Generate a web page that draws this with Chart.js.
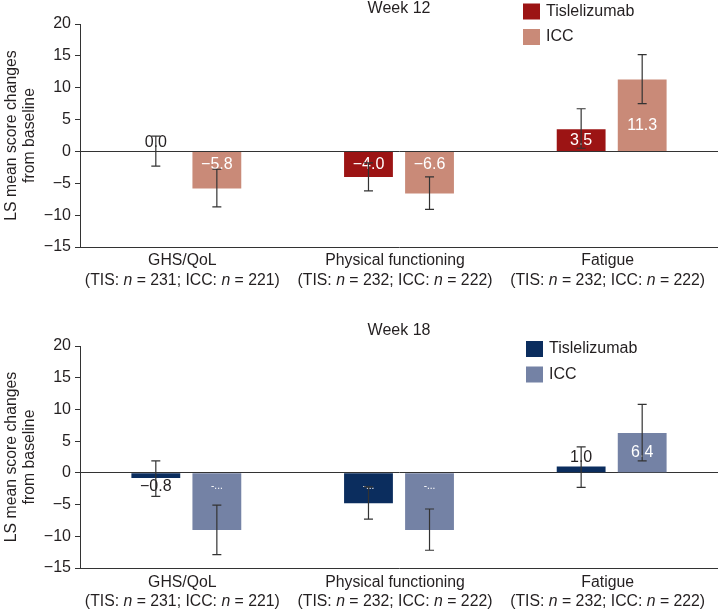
<!DOCTYPE html>
<html>
<head>
<meta charset="utf-8">
<script src="https://cdn.jsdelivr.net/npm/chart.js@4.4.1/dist/chart.umd.min.js"></script>
<style>
    html, body { margin: 0; padding: 0; background: #fff; }
    .caja { position: absolute; left: 0; width: 718px; }
    #caja12 { top: 0; height: 300px; }
    #caja18 { top: 300px; height: 312px; }
</style>
</head>
<body>
<div class="caja" id="caja12"><canvas id="grafico12"></canvas></div>
<div class="caja" id="caja18"><canvas id="grafico18"></canvas></div>
<script>
const categorias = ['GHS/QoL', 'Physical functioning', 'Fatigue']
const nTis = [231, 232, 232]
const nIcc = [221, 222, 222]
const ticksY = [-15, -10, -5, 0, 5, 10, 15, 20]

// semana 12
const tis12 = [0.0, -4.0, 3.5]
const tis12Err = [[-2.3, 2.4], [-6.2, -1.8], [0.5, 6.7]]
const tis12Txt = ['0.0', '\u22124.0', '3.5']
const icc12 = [-5.8, -6.6, 11.3]
const icc12Err = [[-8.7, -2.8], [-9.1, -4.0], [7.5, 15.2]]
const icc12Txt = ['\u22125.8', '\u22126.6', '11.3']

// semana 18
const tis18 = [-0.8, -4.8, 1.0]
const tis18Err = [[-3.7, 1.9], [-7.3, -2.2], [-2.3, 4.1]]
const tis18Txt = ['\u22120.8', '-...', '1.0']
const icc18 = [-9.0, -9.0, 6.3]
const icc18Err = [[-12.9, -5.1], [-12.2, -5.7], [1.9, 10.8]]
const icc18Txt = ['-...', '-...', '6.4']

const FUENTE = "'Liberation Sans', Arial, Helvetica, sans-serif"
const TEXTO = '#231f20'

const menos = v => (v < 0 ? '\u2212' + Math.abs(v) : String(v))

// error bars, value labels, legend, title, category labels
const extras = {
    id: 'extras',
    afterDatasetsDraw(chart, args, opts) {
        const ctx = chart.ctx
        const y = chart.scales.y
        const cero = y.getPixelForValue(0)
        ctx.save()
        ctx.textAlign = 'center'
        ctx.textBaseline = 'middle'
        chart.data.datasets.forEach((ds, di) => {
            chart.getDatasetMeta(di).data.forEach((bar, i) => {
                const v = ds.data[i]
                const txt = ds.textos[i]
                const alto = Math.abs(bar.y - cero)
                let py, color
                if (Math.abs(v) < 2) {
                    color = TEXTO
                    py = v >= 0 ? Math.min(bar.y, cero) - 9 : bar.y + 9
                } else {
                    color = '#fff'
                    py = v > 0 ? cero - Math.min(alto / 2, 26) : cero + Math.min(alto / 2, 13)
                }
                ctx.fillStyle = color
                ctx.font = (txt.includes('...') ? '10px ' : '16px ') + FUENTE
                ctx.fillText(txt, bar.x, py)
            })
        })
        ctx.strokeStyle = '#333'
        ctx.lineWidth = 1.2
        chart.data.datasets.forEach((ds, di) => {
            chart.getDatasetMeta(di).data.forEach((bar, i) => {
                const lo = y.getPixelForValue(ds.err[i][0])
                const hi = y.getPixelForValue(ds.err[i][1])
                ctx.beginPath()
                ctx.moveTo(bar.x, lo); ctx.lineTo(bar.x, hi)
                ctx.moveTo(bar.x - 4.5, lo); ctx.lineTo(bar.x + 4.5, lo)
                ctx.moveTo(bar.x - 4.5, hi); ctx.lineTo(bar.x + 4.5, hi)
                ctx.stroke()
            })
        })
        ctx.restore()
    },
    afterDraw(chart, args, opts) {
        const ctx = chart.ctx
        const area = chart.chartArea
        const x = chart.scales.x
        ctx.save()
        ctx.fillStyle = TEXTO
        ctx.textBaseline = 'middle'

        // titulo
        ctx.textAlign = 'center'
        ctx.font = '16px ' + FUENTE
        ctx.fillText(opts.titulo, (area.left + area.right) / 2, area.top + opts.tituloDy)

        // leyenda
        ctx.textAlign = 'left'
        chart.data.datasets.forEach((ds, di) => {
            const cy = area.top + opts.leyendaDy + di * 25.5
            ctx.fillStyle = ds.backgroundColor
            ctx.fillRect(opts.leyendaX, cy - 8, 17, 16)
            ctx.fillStyle = TEXTO
            ctx.fillText(ds.label, opts.leyendaX + 23, cy)
        })

        // etiquetas de categoria con n en cursiva
        chart.data.labels.forEach((lab, i) => {
            const cx = x.getPixelForTick(i) - 4
            ctx.textAlign = 'center'
            ctx.font = '15.8px ' + FUENTE
            ctx.fillText(lab, cx, area.bottom + opts.linea1)
            const partes = [
                ['(TIS: ', false], ['n', true], [' = ' + nTis[i] + '; ICC: ', false],
                ['n', true], [' = ' + nIcc[i] + ')', false]
            ]
            const fuente = it => (it ? 'italic ' : '') + '15.8px ' + FUENTE
            let ancho = 0
            partes.forEach(p => { ctx.font = fuente(p[1]); ancho += ctx.measureText(p[0]).width })
            let px = cx - ancho / 2
            ctx.textAlign = 'left'
            partes.forEach(p => {
                ctx.font = fuente(p[1])
                ctx.fillText(p[0], px, area.bottom + opts.linea2)
                px += ctx.measureText(p[0]).width
            })
        })
        ctx.restore()
    }
}

const crearGrafico = (id, datos, ajustes) => {
    new Chart(document.getElementById(id), {
        type: 'bar',
        data: {
            labels: categorias,
            datasets: [
                {
                    label: 'Tislelizumab',
                    backgroundColor: datos.colores[0],
                    data: datos.tis,
                    err: datos.tisErr,
                    textos: datos.tisTxt
                }, {
                    label: 'ICC',
                    backgroundColor: datos.colores[1],
                    data: datos.icc,
                    err: datos.iccErr,
                    textos: datos.iccTxt
                }
            ]
        },
        plugins: [extras],
        options: {
            responsive: true,
            maintainAspectRatio: false,
            animation: false,
            datasets: { bar: { categoryPercentage: 0.574, barPercentage: 0.8 } },
            layout: { padding: { top: ajustes.arriba, right: 0, bottom: 0, left: 0 } },
            plugins: {
                legend: { display: false },
                tooltip: { enabled: false },
                extras: ajustes
            },
            scales: {
                x: {
                    grid: { display: false },
                    border: { display: true, color: '#333', width: 1 },
                    ticks: { display: false },
                    afterFit: s => { s.height = ajustes.altoX }
                },
                y: {
                    min: -15,
                    max: 20,
                    afterBuildTicks: s => { s.ticks = ticksY.map(v => ({ value: v })) },
                    afterFit: s => { s.width = 80 },
                    border: { display: true, color: '#333', width: 1 },
                    grid: {
                        drawOnChartArea: true,
                        color: c => (c.tick && c.tick.value === 0 ? '#333' : 'rgba(0,0,0,0)'),
                        tickColor: '#333',
                        tickLength: 5,
                        lineWidth: 1
                    },
                    ticks: {
                        padding: 4,
                        color: TEXTO,
                        font: { family: FUENTE, size: 16 },
                        callback: v => menos(v)
                    },
                    title: {
                        display: true,
                        text: ['LS mean score changes', 'from baseline'],
                        color: TEXTO,
                        font: { family: FUENTE, size: 15.8, lineHeight: 1.17 },
                        padding: { top: 2, bottom: 0 }
                    }
                }
            }
        }
    })
}

crearGrafico('grafico12', {
    colores: ['#9c1414', '#c98a78'],
    tis: tis12, tisErr: tis12Err, tisTxt: tis12Txt,
    icc: icc12, iccErr: icc12Err, iccTxt: icc12Txt
}, { titulo: 'Week 12', arriba: 24, altoX: 53, tituloDy: -15, leyendaX: 523, leyendaDy: -12.5, linea1: 14, linea2: 34 })

crearGrafico('grafico18', {
    colores: ['#0b2d5e', '#7482a5'],
    tis: tis18, tisErr: tis18Err, tisTxt: tis18Txt,
    icc: icc18, iccErr: icc18Err, iccTxt: icc18Txt
}, { titulo: 'Week 18', arriba: 46, altoX: 44, tituloDy: -15, leyendaX: 526, leyendaDy: 3, linea1: 15, linea2: 34 })
</script>
</body>
</html>
